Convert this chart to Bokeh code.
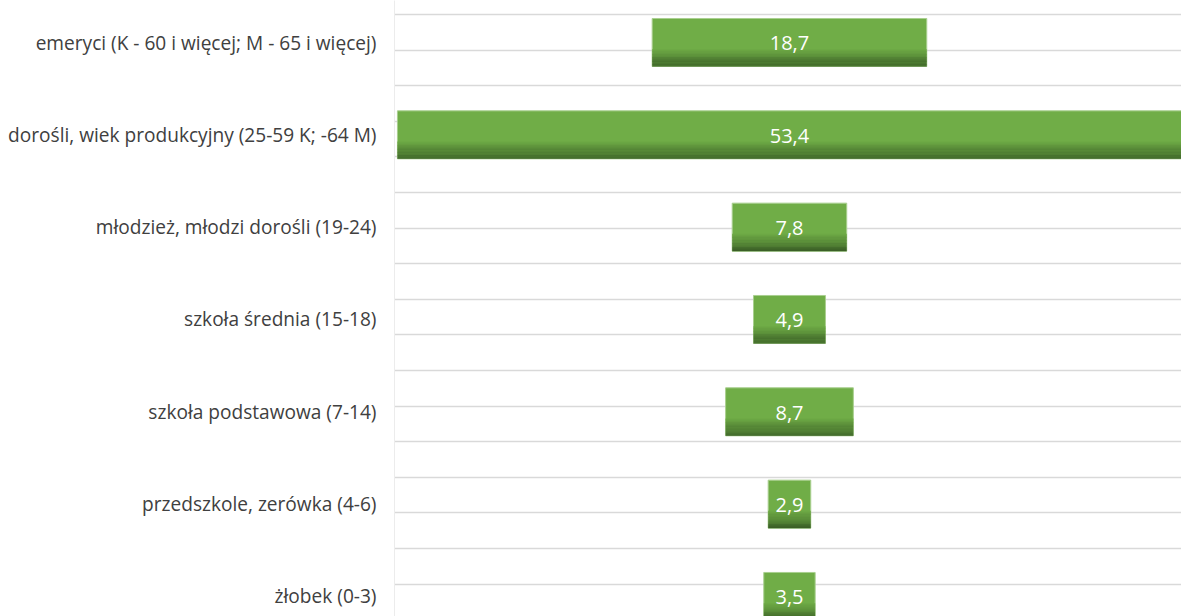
from bokeh.plotting import figure
from bokeh.models import Range1d, FixedTicker, ColumnDataSource
from bokeh.core.properties import value
from bokeh.embed import file_html
from bokeh.resources import INLINE

# Data (top to bottom as shown)
categories = [
    "emeryci (K - 60 i więcej; M - 65 i więcej)",
    "dorośli, wiek produkcyjny (25-59 K; -64 M)",
    "młodzież, młodzi dorośli (19-24)",
    "szkoła średnia (15-18)",
    "szkoła podstawowa (7-14)",
    "przedszkole, zerówka (4-6)",
    "żłobek (0-3)",
]
values = [18.7, 53.4, 7.8, 4.9, 8.7, 2.9, 3.5]
value_labels = ["18,7", "53,4", "7,8", "4,9", "8,7", "2,9", "3,5"]

W, H = 1181, 616
Y0, Y1 = -0.217, 6.455
X0, X1 = -26.9, 26.7
n = len(categories)
ypos = [n - 1 - i for i in range(n)]

p = figure(width=W, height=H, x_range=Range1d(X0, X1), y_range=Range1d(Y0, Y1),
           output_backend="svg", toolbar_location=None,
           min_border_left=394, min_border_right=0, min_border_top=0, min_border_bottom=0)
p.outline_line_color = None
p.background_fill_color = "white"
p.xaxis.visible = False
p.xgrid.visible = False

# gridlines (spacing in px converted to data units)
ppu = H / (Y1 - Y0)
grid_ticks = [Y1 - (14 + 35.6 * k) / ppu for k in range(17)]
p.ygrid.ticker = FixedTicker(ticks=grid_ticks)
p.ygrid.grid_line_color = "#d9d9d9"
p.ygrid.grid_line_width = 1.5

ax = p.yaxis[0]
ax.ticker = FixedTicker(ticks=ypos)
ax.major_label_overrides = {y: c for y, c in zip(ypos, categories)}
ax.major_tick_line_color = None
ax.minor_tick_line_color = None
ax.axis_line_color = "#ececec"
ax.major_label_standoff = 12
ax.major_label_text_font = "Open Sans"
ax.major_label_text_font_size = "19.1px"
ax.major_label_text_color = "#404040"

bh = 0.52
src = ColumnDataSource(dict(y=ypos, v=values, left=[-v / 2 for v in values],
                            right=[v / 2 for v in values], lab=value_labels))
p.hbar(y="y", left="left", right="right", height=bh, source=src,
       fill_color="#70ad47", line_color="#a9cf8f", line_width=1)

# simulated bottom gradient
top_c = (0x70, 0xad, 0x47)
bot_c = (0x3b, 0x60, 0x26)
steps = 16
frac = 0.36
for s in range(steps):
    t = (s + 1) / steps
    c = tuple(int(top_c[j] + (bot_c[j] - top_c[j]) * t) for j in range(3))
    col = "#%02x%02x%02x" % c
    h = bh * frac / steps
    ys = [y - bh / 2 + bh * frac - (s + 0.5) * h for y in ypos]
    p.hbar(y=ys, left=[-v / 2 for v in values], right=[v / 2 for v in values],
           height=h * 1.05, fill_color=col, line_color=None)

p.text(x=[0] * n, y=[y - 0.01 for y in ypos], text=value_labels,
       text_align="center", text_baseline="middle", text_color="white",
       text_font=value("Open Sans"), text_font_size="20px")

open("out.html", "w").write(file_html(p, INLINE))
